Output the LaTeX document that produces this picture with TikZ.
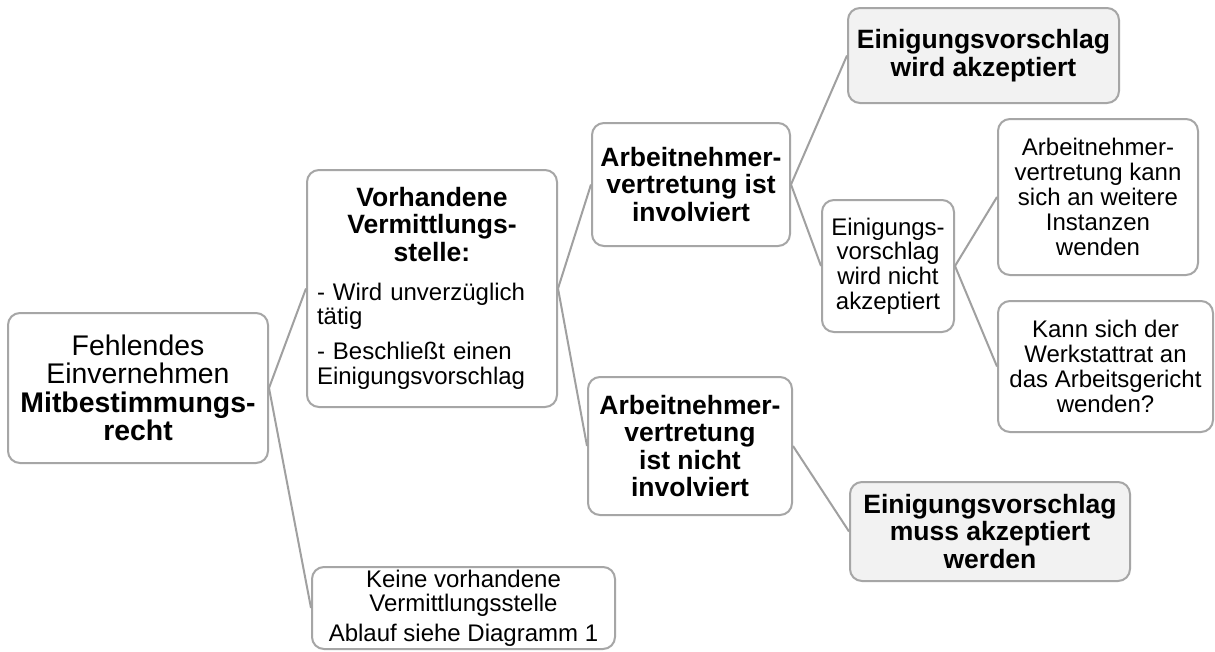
\documentclass[tikz,border=0pt]{standalone}
\usepackage{fontspec}
\setmainfont{Liberation Sans}
\usepackage{tikz}
\usetikzlibrary{positioning}

\definecolor{boxgray}{HTML}{A6A6A6}
\definecolor{linegray}{HTML}{A0A0A0}
\definecolor{leadfill}{HTML}{F2F2F2}

\newcommand{\plainsize}{\fontsize{24}{24.8}\selectfont}
\newcommand{\boldsize}{\fontsize{26.5}{27.5}\selectfont\bfseries}
\newcommand{\rootsize}{\fontsize{28.4}{28.4}\selectfont}

\begin{document}
\begin{tikzpicture}[x=1pt,y=-1pt,
line width=2pt]

\tikzstyle{box}=[rectangle, rounded corners=12pt, draw=boxgray, line width=2pt,
fill=white, text=black, align=center, inner sep=2pt, font=\plainsize]

\tikzstyle{lead}=[box, font=\boldsize]

\tikzstyle{final}=[lead, fill=leadfill]

\tikzstyle{link}=[draw=linegray, line width=2pt]

\useasboundingbox[fill=white] (0,0) rectangle (1215,651);

%root
\node[box, font=\rootsize, minimum width=260pt, minimum height=150pt]
(root) at (138,388)
{Fehlendes\\ Einvernehmen\\ \textbf{Mitbestimmungs-}\\ \textbf{recht}};

%second level
\node[box, minimum width=250pt, minimum height=237pt, text width=230pt,
inner xsep=10pt, align=left]
(verm) at (432,288.5)
{{\centering\boldsize Vorhandene\\ Vermittlungs-\\ stelle:\par}
\raggedright\fontsize{24}{23.5}\selectfont
\vspace{16pt}
- Wird unverzüglich\\ tätig\par
\vspace{12pt}
- Beschließt einen\\ Einigungsvorschlag};

\node[box, minimum width=303pt, minimum height=82pt]
(keine) at (463.5,608)
{Keine vorhandene\\ Vermittlungsstelle\\[4.5pt] Ablauf siehe Diagramm 1};

%third level
\node[lead, minimum width=198pt, minimum height=123pt]
(aninv) at (691,184.5)
{Arbeitnehmer-\\ vertretung ist\\ involviert};

\node[lead, minimum width=204pt, minimum height=138pt]
(annicht) at (690,446)
{Arbeitnehmer-\\ vertretung\\ ist nicht\\ involviert};

%fourth level
\node[final, minimum width=271pt, minimum height=95pt]
(akzept) at (983.5,55.5)
{Einigungsvorschlag\\ wird akzeptiert};

\node[box, minimum width=132pt, minimum height=132pt]
(nichtakz) at (888,266)
{Einigungs-\\ vorschlag\\ wird nicht\\ akzeptiert};

\node[final, minimum width=280pt, minimum height=99pt]
(muss) at (990,531.5)
{Einigungsvorschlag\\ muss akzeptiert\\ werden};

%fifth level
\node[box, minimum width=200pt, minimum height=156pt]
(instanzen) at (1098,197)
{Arbeitnehmer-\\ vertretung kann\\ sich an weitere\\ Instanzen\\ wenden};

\node[box, minimum width=215pt, minimum height=131pt]
(gericht) at (1105.5,366.5)
{Kann sich der\\ Werkstattrat an\\ das Arbeitsgericht\\ wenden?};

\path[link] (root.east) edge (verm.west);
\path[link] (root.east) edge (keine.west);
\path[link] (verm.east) edge (aninv.west);
\path[link] (verm.east) edge (annicht.west);
\path[link] (aninv.east) edge (akzept.west);
\path[link] (aninv.east) edge (nichtakz.west);
\path[link] (annicht.east) edge (muss.west);
\path[link] (nichtakz.east) edge (instanzen.west);
\path[link] (nichtakz.east) edge (gericht.west);

\end{tikzpicture}
\end{document}
